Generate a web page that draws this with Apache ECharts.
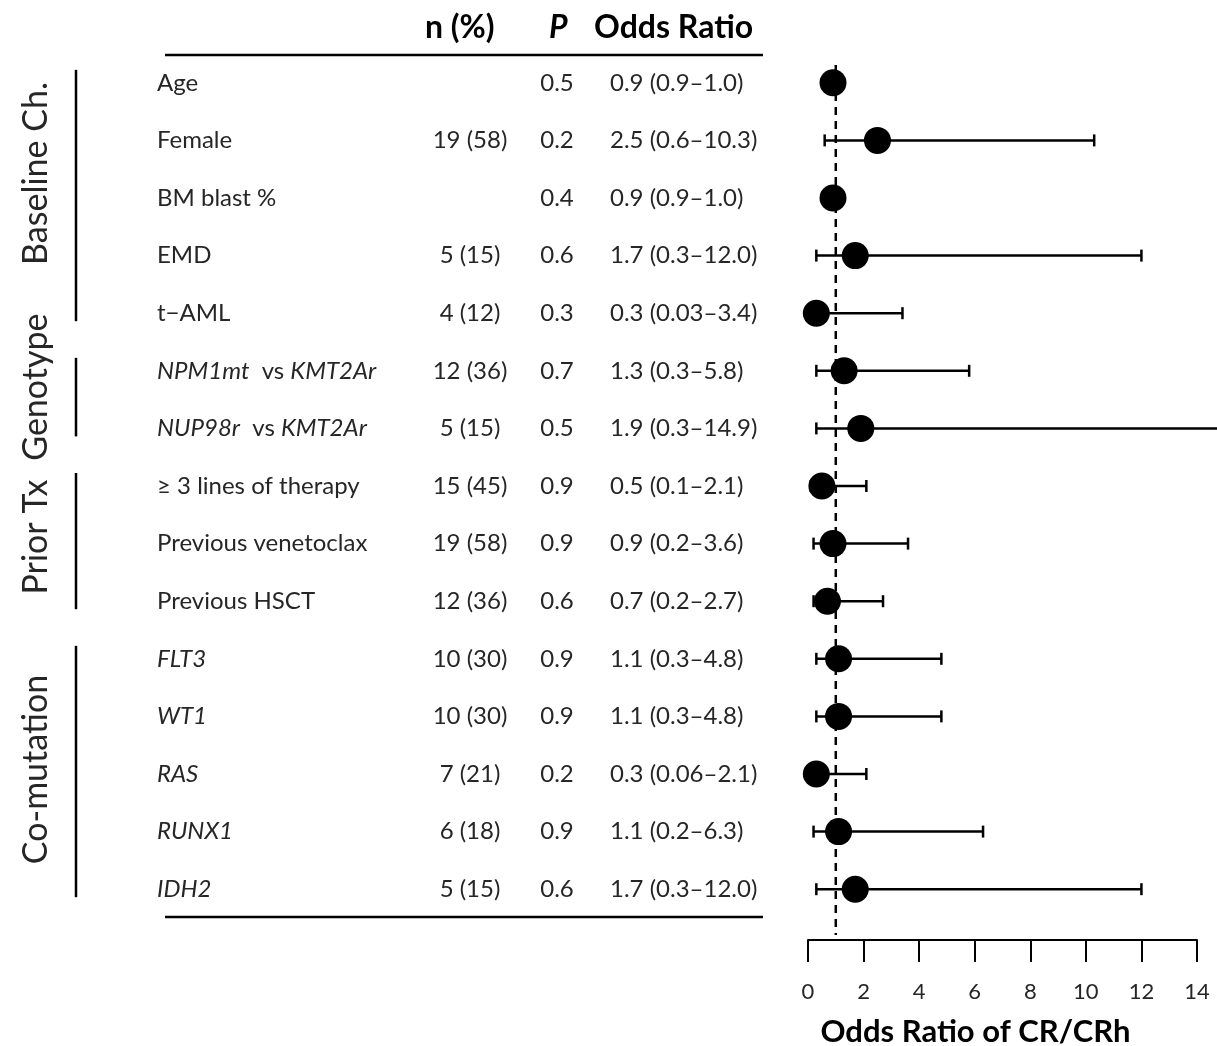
<!DOCTYPE html>
<html>
<head>
<meta charset="utf-8">
<style>
  html, body { margin: 0; padding: 0; background: #fff; }
  #main { width: 1217px; height: 1046px; }
</style>
<script src="https://cdn.jsdelivr.net/npm/echarts@6/dist/echarts.min.js"></script>
</head>
<body>
<div id="main"></div>
<script>
// Data
const rowLabels = [
    'Age', 'Female', 'BM blast %', 'EMD', 't\u2212AML',
    'NPM1mt  vs KMT2Ar', 'NUP98r  vs KMT2Ar',
    '\u2265 3 lines of therapy', 'Previous venetoclax', 'Previous HSCT',
    'FLT3', 'WT1', 'RAS', 'RUNX1', 'IDH2'
];
const nPct = ['', '19 (58)', '', '5 (15)', '4 (12)', '12 (36)', '5 (15)', '15 (45)', '19 (58)', '12 (36)', '10 (30)', '10 (30)', '7 (21)', '6 (18)', '5 (15)'];
const pValues = ['0.5', '0.2', '0.4', '0.6', '0.3', '0.7', '0.5', '0.9', '0.9', '0.6', '0.9', '0.9', '0.2', '0.9', '0.6'];
const oddsRatio = [0.9, 2.5, 0.9, 1.7, 0.3, 1.3, 1.9, 0.5, 0.9, 0.7, 1.1, 1.1, 0.3, 1.1, 1.7];
const ciLow = [0.9, 0.6, 0.9, 0.3, 0.03, 0.3, 0.3, 0.1, 0.2, 0.2, 0.3, 0.3, 0.06, 0.2, 0.3];
const ciHigh = [1.0, 10.3, 1.0, 12.0, 3.4, 5.8, 14.9, 2.1, 3.6, 2.7, 4.8, 4.8, 2.1, 6.3, 12.0];
const groupNames = ['Baseline Ch.', 'Genotype', 'Prior Tx', 'Co-mutation'];
const groupRows = [[0, 4], [5, 6], [7, 9], [10, 14]];
const italicWords = ['NPM1mt', 'NUP98r', 'KMT2Ar', 'FLT3', 'WT1', 'RAS', 'RUNX1', 'IDH2'];
const xTicks = { min: 0, max: 14, interval: 2 };

// Layout / style
const FONT = 'Lato, "Open Sans", sans-serif';
const TEXT = '#262626';
const BODY_SIZE = 24;
const gridLeft = 808, gridWidth = 389, gridTop = 54, gridHeight = 864;
const groupLabelShift = [-22, -10, -4, -2];

const fmt = v => (v < 0.1 ? String(v) : v.toFixed(1));
const orText = oddsRatio.map((v, i) => `${fmt(v)} (${fmt(ciLow[i])}\u2013${fmt(ciHigh[i])})`);

const chart = echarts.init(document.getElementById('main'));

function labelAxis(data, x, align, extraLabel) {
    return {
        type: 'category',
        data: data,
        inverse: true,
        position: 'left',
        axisLine: { show: false },
        axisTick: { show: false },
        splitLine: { show: false },
        axisLabel: Object.assign({
            interval: 0,
            align: align,
            margin: gridLeft - x,
            fontFamily: FONT,
            fontSize: BODY_SIZE,
            color: TEXT
        }, extraLabel || {})
    };
}

const option = {
    animation: false,
    grid: {
        left: gridLeft, width: gridWidth, top: gridTop, height: gridHeight,
        containLabel: false, outerBoundsMode: 'none'
    },
    xAxis: {
        type: 'value',
        min: xTicks.min,
        max: xTicks.max,
        interval: xTicks.interval,
        offset: 22,
        axisLine: { show: true, lineStyle: { color: '#000', width: 2 } },
        axisTick: { show: true, length: 22, lineStyle: { color: '#000', width: 2 } },
        splitLine: { show: false },
        axisLabel: { fontFamily: FONT, fontSize: 22, color: TEXT, margin: 41 },
        name: 'Odds Ratio of CR/CRh',
        nameLocation: 'middle',
        nameGap: 76,
        nameTextStyle: {
            fontFamily: FONT, fontSize: 31, fontWeight: 'bold', color: '#000',
            padding: [0, 54, 0, 0]
        }
    },
    yAxis: [
        labelAxis(rowLabels, 157, 'left', {
            formatter: v => v.split(' ').map(w => italicWords.includes(w) ? `{i|${w}}` : w).join(' '),
            rich: { i: { fontFamily: FONT, fontSize: BODY_SIZE, fontStyle: 'italic', color: TEXT } }
        }),
        labelAxis(nPct, 470, 'center'),
        labelAxis(pValues, 557, 'center'),
        labelAxis(orText, 610, 'left')
    ],
    graphic: [
        { type: 'text', left: 425, top: 12, style: { text: 'n (%)', font: 'bold 32px ' + FONT, fill: '#000' } },
        { type: 'text', left: 549, top: 12, style: { text: 'P', font: 'italic bold 32px ' + FONT, fill: '#000' } },
        { type: 'text', left: 594, top: 12, style: { text: 'Odds Ratio', font: 'bold 32px ' + FONT, fill: '#000' } },
        { type: 'line', shape: { x1: 165, y1: 55, x2: 763, y2: 55 }, style: { stroke: '#000', lineWidth: 2.5 } },
        { type: 'line', shape: { x1: 165, y1: 917, x2: 763, y2: 917 }, style: { stroke: '#000', lineWidth: 2.5 } }
    ],
    series: [
        {
            // reference line at OR = 1
            type: 'custom',
            data: [[1]],
            renderItem: function (params, api) {
                const cs = params.coordSys;
                const x = api.coord([api.value(0), 0])[0];
                return {
                    type: 'line',
                    shape: { x1: x, y1: cs.y + 11, x2: x, y2: cs.y + cs.height + 17 },
                    style: { stroke: '#000', lineWidth: 2.5, lineDash: [8, 6] }
                };
            },
            z: 1
        },
        {
            // confidence intervals
            type: 'custom',
            data: oddsRatio.map((v, i) => [i, ciLow[i], ciHigh[i]]),
            renderItem: function (params, api) {
                const row = api.value(0);
                const p1 = api.coord([api.value(1), row]);
                const p2 = api.coord([api.value(2), row]);
                const h = 6;
                const st = { stroke: '#000', lineWidth: 2.5 };
                return {
                    type: 'group',
                    children: [
                        { type: 'line', shape: { x1: p1[0], y1: p1[1], x2: p2[0], y2: p2[1] }, style: st },
                        { type: 'line', shape: { x1: p1[0], y1: p1[1] - h, x2: p1[0], y2: p1[1] + h }, style: st },
                        { type: 'line', shape: { x1: p2[0], y1: p2[1] - h, x2: p2[0], y2: p2[1] + h }, style: st }
                    ]
                };
            },
            z: 2
        },
        {
            type: 'scatter',
            data: oddsRatio.map((v, i) => [v, i]),
            symbolSize: 27,
            itemStyle: { color: '#000', opacity: 1 },
            z: 3
        },
        {
            // group brackets and rotated group labels
            type: 'custom',
            data: groupRows.map((r, i) => [r[0], r[1], i]),
            renderItem: function (params, api) {
                const y1 = api.coord([0, api.value(0)])[1] - 13;
                const y2 = api.coord([0, api.value(1)])[1] + 8;
                const gi = api.value(2);
                return {
                    type: 'group',
                    children: [
                        { type: 'line', shape: { x1: 76, y1: y1, x2: 76, y2: y2 }, style: { stroke: '#000', lineWidth: 2.5 } },
                        {
                            type: 'text',
                            x: 36,
                            y: (y1 + y2) / 2 + groupLabelShift[gi],
                            rotation: Math.PI / 2,
                            style: {
                                text: groupNames[gi],
                                font: '34px ' + FONT,
                                fill: TEXT,
                                align: 'center',
                                verticalAlign: 'middle'
                            }
                        }
                    ]
                };
            }
        }
    ]
};
chart.setOption(option);
</script>
</body>
</html>
